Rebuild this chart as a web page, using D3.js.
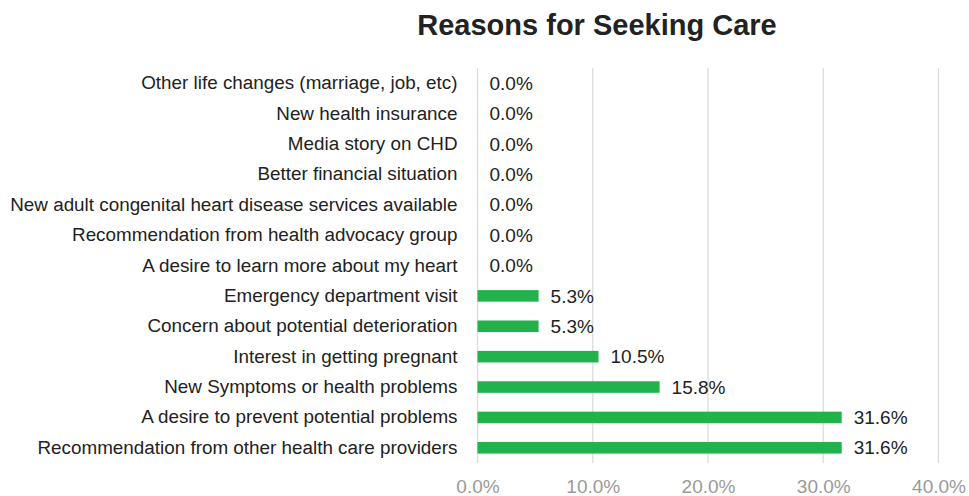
<!DOCTYPE html>
<html><head><meta charset="utf-8">
<script src="https://cdn.jsdelivr.net/npm/d3@7"></script>
<style>body{margin:0;background:#fff}svg{display:block}</style>
</head><body>
<svg id="c" width="969" height="496"></svg>
<script>
const categories = [
  "Other life changes (marriage, job, etc)",
  "New health insurance",
  "Media story on CHD",
  "Better financial situation",
  "New adult congenital heart disease services available",
  "Recommendation from health advocacy group",
  "A desire to learn more about my heart",
  "Emergency department visit",
  "Concern about potential deterioration",
  "Interest in getting pregnant",
  "New Symptoms or health problems",
  "A desire to prevent potential problems",
  "Recommendation from other health care providers"
];
const values = [0, 0, 0, 0, 0, 0, 0, 5.3, 5.3, 10.5, 15.8, 31.6, 31.6];
const xTicks = [0, 10, 20, 30, 40];
const title = "Reasons for Seeking Care";

(function () {
const svg = d3.select("#c");
const font = "'Liberation Sans', Arial, Helvetica, sans-serif";
const pLeft = 477.5, pRight = 938.5, pTop = 68, pBottom = 463;
const x = d3.scaleLinear().domain([0, 40]).range([pLeft, pRight]);
const y = d3.scaleBand().domain(categories).range([pTop, pBottom]).paddingInner(0.62).paddingOuter(0.31);

svg.append("text").attr("x", 597).attr("y", 35).attr("text-anchor", "middle")
  .attr("font-family", font).attr("font-weight", "bold").attr("font-size", 29)
  .attr("fill", "#222").text(title);

svg.append("g").selectAll("line").data(xTicks).join("line")
  .attr("x1", d => x(d)).attr("x2", d => x(d)).attr("y1", pTop).attr("y2", pBottom)
  .attr("stroke", "#dcdcdc").attr("stroke-width", 1.3);

const xAxis = d3.axisBottom(x).tickValues(xTicks).tickFormat(d => d3.format(".1f")(d) + "%").tickSize(0).tickPadding(0);
const gx = svg.append("g").attr("transform", `translate(0,493)`).call(xAxis);
gx.select(".domain").remove();
gx.selectAll("text").attr("font-family", font).attr("font-size", 19).attr("fill", "#9a9a9a").attr("dy", "0");

const yAxis = d3.axisLeft(y).tickSize(0).tickPadding(20);
const gy = svg.append("g").attr("transform", `translate(${pLeft},0)`).call(yAxis);
gy.select(".domain").remove();
gy.selectAll("text").attr("font-family", font).attr("font-size", 18.85).attr("fill", "#222");

svg.append("g").selectAll("rect").data(values).join("rect")
  .attr("x", x(0)).attr("y", (d, i) => y(categories[i]))
  .attr("width", d => x(d) - x(0)).attr("height", y.bandwidth())
  .attr("fill", "#22b24c");

svg.append("g").selectAll("text").data(values).join("text")
  .attr("x", d => x(d) + 12).attr("y", (d, i) => y(categories[i]) + y.bandwidth() / 2)
  .attr("dy", "0.35em").attr("font-family", font).attr("font-size", 19).attr("fill", "#222")
  .text(d => d3.format(".1f")(d) + "%");
})();
</script>
</body></html>
